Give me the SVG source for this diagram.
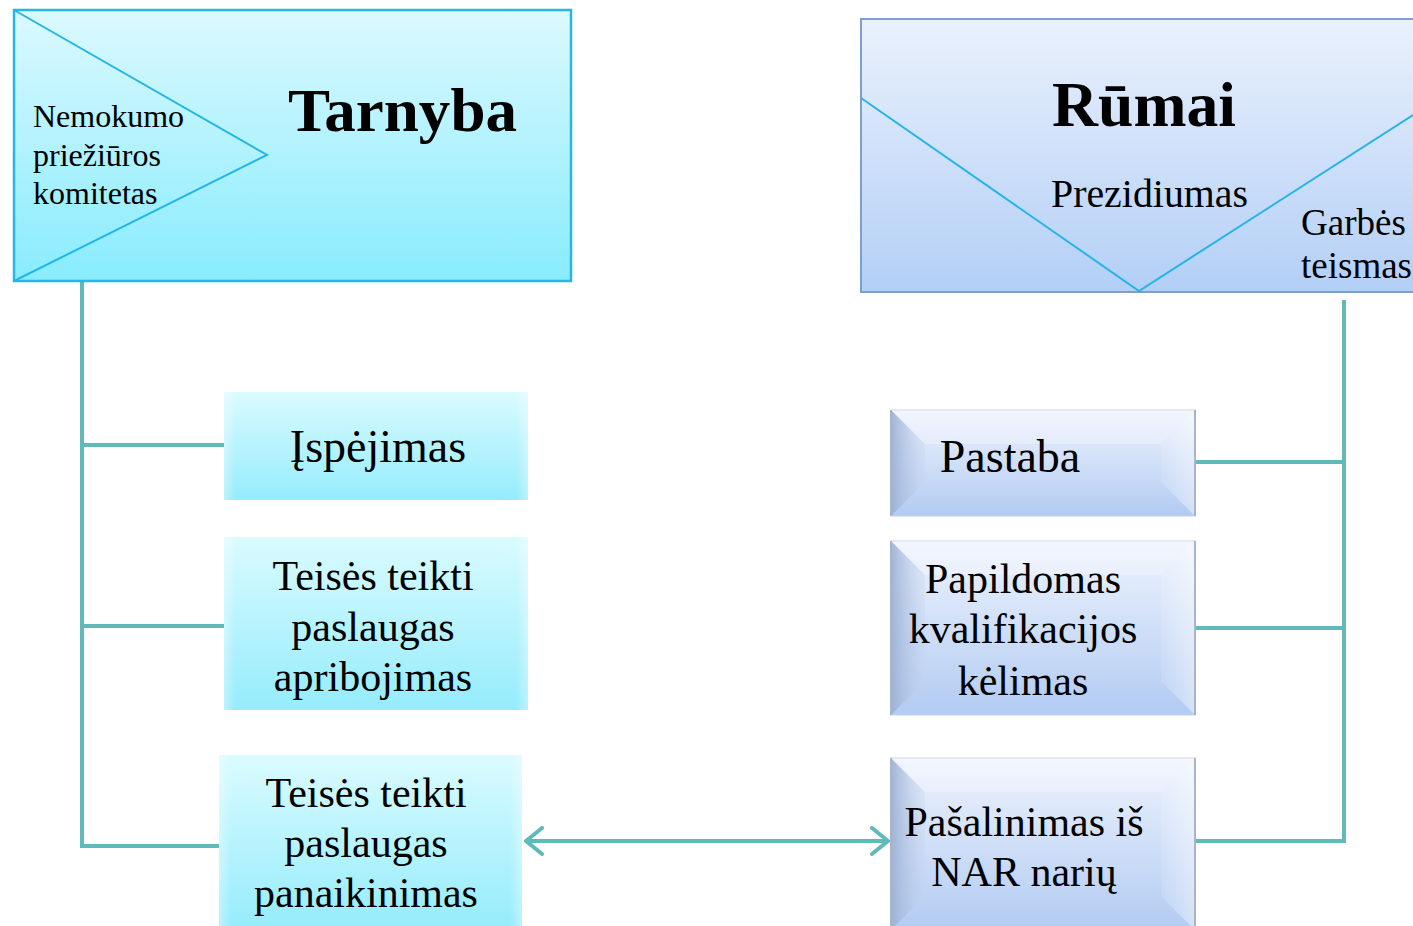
<svg xmlns="http://www.w3.org/2000/svg" width="1413" height="926" viewBox="0 0 1413 926">
  <defs>
    <linearGradient id="gCyanBig" x1="0" y1="0" x2="0" y2="1">
      <stop offset="0" stop-color="#dcf9ff"/>
      <stop offset="1" stop-color="#88ecfd"/>
    </linearGradient>
    <linearGradient id="gBlueBig" x1="0" y1="0" x2="0" y2="1">
      <stop offset="0" stop-color="#eaf1fd"/>
      <stop offset="1" stop-color="#b3cff6"/>
    </linearGradient>
    <linearGradient id="gCyan" x1="0" y1="0" x2="0" y2="1">
      <stop offset="0" stop-color="#dafbff"/>
      <stop offset="1" stop-color="#95ecfc"/>
    </linearGradient>
    <linearGradient id="gCyanEdge" x1="0" y1="0" x2="1" y2="0">
      <stop offset="0" stop-color="#ffffff" stop-opacity="0.35"/>
      <stop offset="0.04" stop-color="#ffffff" stop-opacity="0"/>
      <stop offset="0.96" stop-color="#ffffff" stop-opacity="0"/>
      <stop offset="1" stop-color="#ffffff" stop-opacity="0.35"/>
    </linearGradient>
    <linearGradient id="gBlue" x1="0" y1="0" x2="0" y2="1">
      <stop offset="0" stop-color="#eef3fd"/>
      <stop offset="1" stop-color="#b2cbf2"/>
    </linearGradient>
    <linearGradient id="gBevelL" x1="0" y1="0" x2="1" y2="0">
      <stop offset="0" stop-color="#9aaed2" stop-opacity="0.9"/>
      <stop offset="1" stop-color="#c4d4ef" stop-opacity="0.3"/>
    </linearGradient>
    <linearGradient id="gBevelR" x1="0" y1="0" x2="1" y2="0">
      <stop offset="0" stop-color="#ffffff" stop-opacity="0.1"/>
      <stop offset="1" stop-color="#ffffff" stop-opacity="0.45"/>
    </linearGradient>
    <marker id="chev" viewBox="0 0 20 30" refX="18" refY="15" markerWidth="20" markerHeight="30" markerUnits="userSpaceOnUse" orient="auto-start-reverse">
      <polyline points="2,2 18,15 2,28" fill="none" stroke="#62b9b9" stroke-width="4" stroke-linecap="round" stroke-linejoin="round"/>
    </marker>
  </defs>
  <style>
    .txt { font-family: "Liberation Serif", "Times New Roman", serif; fill: #000; }
    .big { font-weight: bold; }
    .conn { stroke: #62b9b9; stroke-width: 4; fill: none; }
    .tri { stroke: #25b5e5; stroke-width: 2; fill: none; }
  </style>

  <g id="connectors">
    <polyline class="conn" points="82,281 82,846 219,846"/>
    <line class="conn" x1="82" y1="445" x2="224" y2="445"/>
    <line class="conn" x1="82" y1="626" x2="224" y2="626"/>
    <polyline class="conn" points="1344,300 1344,841 1195,841"/>
    <line class="conn" x1="1195" y1="462" x2="1344" y2="462"/>
    <line class="conn" x1="1195" y1="628" x2="1344" y2="628"/>
    <line class="conn" x1="526" y1="841" x2="888" y2="841" marker-start="url(#chev)" marker-end="url(#chev)"/>
  </g>

  <g id="tarnyba">
    <rect x="14" y="10" width="557" height="271" fill="url(#gCyanBig)" stroke="#27b6e8" stroke-width="2.5"/>
    <polyline class="tri" points="14,10 267,155 14,281"/>
    <text class="txt" font-size="32" x="33" y="127">Nemokumo</text>
    <text class="txt" font-size="32" x="33" y="166">priežiūros</text>
    <text class="txt" font-size="32" x="33" y="204">komitetas</text>
    <text class="txt big" font-size="62" x="288" y="131" textLength="229" lengthAdjust="spacingAndGlyphs">Tarnyba</text>
  </g>

  <g id="rumai">
    <rect x="861" y="19" width="560" height="273" fill="url(#gBlueBig)" stroke="#7c9fcb" stroke-width="2"/>
    <polyline class="tri" points="861,98 1139,291 1413,115"/>
    <text class="txt big" font-size="63" x="1052" y="126" textLength="184" lengthAdjust="spacingAndGlyphs">Rūmai</text>
    <text class="txt" font-size="39" x="1051" y="207" textLength="197" lengthAdjust="spacingAndGlyphs">Prezidiumas</text>
    <text class="txt" font-size="37" x="1301" y="235">Garbės</text>
    <text class="txt" font-size="37" x="1301" y="278">teismas</text>
  </g>

  <g id="ispejimas">
    <rect x="224" y="392" width="304" height="108" fill="url(#gCyan)"/>
    <rect x="224" y="392" width="304" height="108" fill="url(#gCyanEdge)"/>
    <text class="txt" font-size="46" x="378" y="462" text-anchor="middle">Įspėjimas</text>
  </g>

  <g id="apribojimas">
    <rect x="224" y="537" width="304" height="173" fill="url(#gCyan)"/>
    <rect x="224" y="537" width="304" height="173" fill="url(#gCyanEdge)"/>
    <text class="txt" font-size="42" x="373" y="590" text-anchor="middle">Teisės teikti</text>
    <text class="txt" font-size="42" x="373" y="641" text-anchor="middle">paslaugas</text>
    <text class="txt" font-size="42" x="373" y="691" text-anchor="middle">apribojimas</text>
  </g>

  <g id="panaikinimas">
    <rect x="219" y="755" width="303" height="175" fill="url(#gCyan)"/>
    <rect x="219" y="755" width="303" height="175" fill="url(#gCyanEdge)"/>
    <text class="txt" font-size="42" x="366" y="807" text-anchor="middle">Teisės teikti</text>
    <text class="txt" font-size="42" x="366" y="857" text-anchor="middle">paslaugas</text>
    <text class="txt" font-size="42" x="366" y="907" text-anchor="middle">panaikinimas</text>
  </g>

  <g id="pastaba">
    <rect x="891" y="410" width="304" height="106" fill="url(#gBlue)" stroke="#c9d3e3" stroke-width="1"/>
    <polygon points="891,410 925,444 925,482 891,516" fill="url(#gBevelL)"/>
    <polygon points="1195,410 1161,444 1161,482 1195,516" fill="url(#gBevelR)"/>
    <polygon points="891,410 1195,410 1161,444 925,444" fill="#ffffff" opacity="0.25"/>
    <line x1="1195" y1="410" x2="1195" y2="516" stroke="#a9b4c6" stroke-width="2"/>
    <line x1="891" y1="410" x2="891" y2="516" stroke="#a9b4c6" stroke-width="2"/>
    <text class="txt" font-size="46" x="1010" y="472" text-anchor="middle">Pastaba</text>
  </g>

  <g id="papildomas">
    <rect x="891" y="541" width="304" height="174" fill="url(#gBlue)" stroke="#c9d3e3" stroke-width="1"/>
    <polygon points="891,541 925,575 925,681 891,715" fill="url(#gBevelL)"/>
    <polygon points="1195,541 1161,575 1161,681 1195,715" fill="url(#gBevelR)"/>
    <polygon points="891,541 1195,541 1161,575 925,575" fill="#ffffff" opacity="0.25"/>
    <line x1="1195" y1="541" x2="1195" y2="715" stroke="#a9b4c6" stroke-width="2"/>
    <line x1="891" y1="541" x2="891" y2="715" stroke="#a9b4c6" stroke-width="2"/>
    <text class="txt" font-size="42" x="1023" y="593" text-anchor="middle">Papildomas</text>
    <text class="txt" font-size="42" x="1023" y="643" text-anchor="middle">kvalifikacijos</text>
    <text class="txt" font-size="42" x="1023" y="695" text-anchor="middle">kėlimas</text>
  </g>

  <g id="pasalinimas">
    <rect x="891" y="758" width="304" height="172" fill="url(#gBlue)" stroke="#c9d3e3" stroke-width="1"/>
    <polygon points="891,758 925,792 925,896 891,930" fill="url(#gBevelL)"/>
    <polygon points="1195,758 1161,792 1161,896 1195,930" fill="url(#gBevelR)"/>
    <polygon points="891,758 1195,758 1161,792 925,792" fill="#ffffff" opacity="0.25"/>
    <line x1="1195" y1="758" x2="1195" y2="926" stroke="#a9b4c6" stroke-width="2"/>
    <line x1="891" y1="758" x2="891" y2="926" stroke="#a9b4c6" stroke-width="2"/>
    <text class="txt" font-size="42" x="1024" y="836" text-anchor="middle">Pašalinimas iš</text>
    <text class="txt" font-size="42" x="1024" y="886" text-anchor="middle">NAR narių</text>
  </g>
</svg>
